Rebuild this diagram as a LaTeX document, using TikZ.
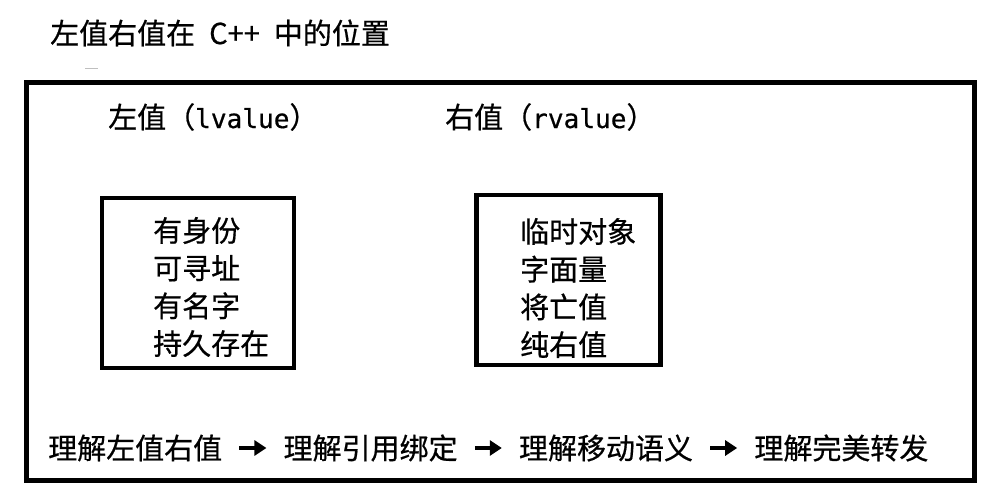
\documentclass[tikz,border=0pt]{standalone}
\usepackage{fontspec}
\setmainfont[FakeBold=0.6]{Noto Sans CJK SC}
\newfontfamily\monofont[Scale=0.9, FakeBold=0.6]{DejaVu Sans Mono}
\usetikzlibrary{positioning, arrows.meta}

\begin{document}
\begin{tikzpicture}[
    x=1pt, y=-1pt,
    node distance=61pt,
    txt/.style={inner sep=0pt, font=\fontsize{29pt}{37.7pt}\selectfont},
    frame/.style={draw, line width=5pt},
    valbox/.style={draw, line width=4.5pt, minimum height=170pt},
    list/.style={txt, align=left, anchor=west},
    line/.style={-{Triangle[length=12pt, width=15pt]}, line width=3.5pt, shorten <=17pt, shorten >=17pt}
]
    \useasboundingbox (0,0) rectangle (994,498);
    \node[txt, anchor=west] (title) at (50,33) {左值右值在\hspace{14pt}C++\hspace{14pt}中的位置};
    \draw[gray!50, line width=1pt] (85,68) -- (98,68);
    \node[frame, minimum width=947.5pt, minimum height=397.5pt] (frame) at (500.25,281.25) {};

    \node[txt, anchor=west] (lhead) at (108,117) {左值（{\monofont lvalue}）};
    \node[txt, anchor=west] (rhead) at (445,117) {右值（{\monofont rvalue}）};

    \node[valbox, minimum width=192pt] (lbox) at (198,283) {};
    \node[list] (llist) at (153,287) {有身份\\可寻址\\有名字\\持久存在};
    \node[valbox, minimum width=184pt] (rbox) at (568.5,280) {};
    \node[list] (rlist) at (520,288) {临时对象\\字面量\\将亡值\\纯右值};

    \node[txt, anchor=west] (lvrv) at (48,448) {理解左值右值};
    \node[txt, right=of lvrv] (refbind) {理解引用绑定};
    \node[txt, right=of refbind] (movesem) {理解移动语义};
    \node[txt, right=of movesem] (perfwd) {理解完美转发};

    \draw[line] (lvrv) -- (refbind);
    \draw[line] (refbind) -- (movesem);
    \draw[line] (movesem) -- (perfwd);
\end{tikzpicture}
\end{document}
